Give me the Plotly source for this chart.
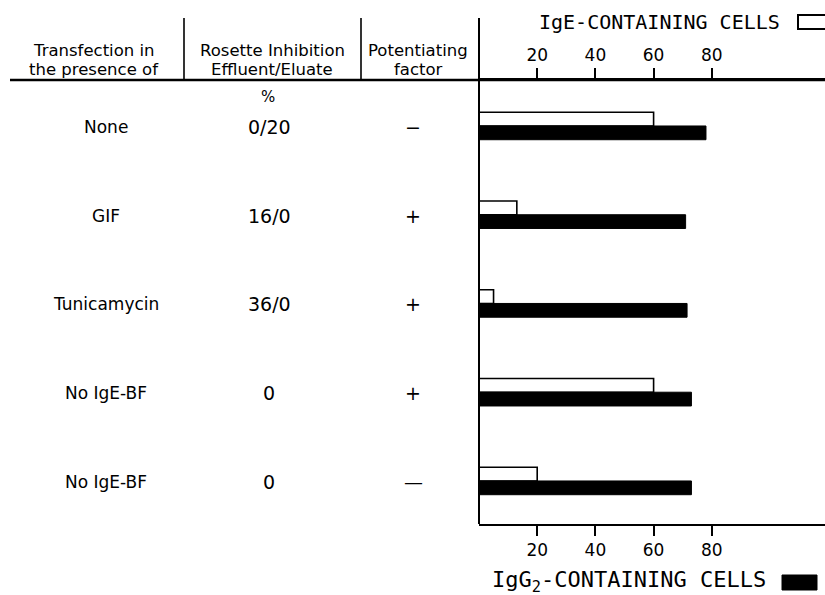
import plotly.graph_objects as go

# ---- data ----
treatments = ["None", "GIF", "Tunicamycin", "No IgE-BF", "No IgE-BF"]
rosette_inhibition = ["0/20", "16/0", "36/0", "0", "0"]
potentiating = ["\u2212", "+", "+", "+", "\u2014"]
ige_cells = [60, 13, 5, 60, 20]
igg2_cells = [78, 71, 71.5, 73, 73]
tick_vals = [20, 40, 60, 80]
tick_text = ["20", "40", "60", "80"]

W, H = 825, 595
def px(x):
    return x / W
def py(y):
    return 1 - y / H

rows = list(range(len(treatments)))
FONT = "DejaVu Sans"
MONO = "DejaVu Sans Mono"

fig = go.Figure()
fig.add_trace(go.Bar(
    y=rows, x=ige_cells, orientation="h", name="IgE",
    marker=dict(color="white", line=dict(color="black", width=1.6)),
    xaxis="x", yaxis="y", showlegend=False, hoverinfo="x",
))
fig.add_trace(go.Bar(
    y=rows, x=igg2_cells, orientation="h", name="IgG2",
    marker=dict(color="black", line=dict(color="black", width=1)),
    xaxis="x", yaxis="y", showlegend=False, hoverinfo="x",
))
# empty trace to carry the bottom axis
fig.add_trace(go.Scatter(x=[None], y=[None], xaxis="x2", yaxis="y",
                         mode="markers", showlegend=False, hoverinfo="skip"))

xr = [0, (W - 479) / 2.91]
common_axis = dict(
    range=xr, tickvals=tick_vals, ticktext=tick_text, ticks="outside",
    ticklen=10, tickwidth=2, tickcolor="black", showgrid=False,
    zeroline=False, showline=True, linecolor="black", linewidth=2,
    tickfont=dict(family=FONT, size=17, color="black"),
    domain=[px(479), 1],
)
fig.update_layout(
    width=W, height=H,
    margin=dict(l=0, r=0, t=0, b=0),
    paper_bgcolor="white", plot_bgcolor="white",
    barmode="group", bargap=0.69, bargroupgap=0,
    xaxis=dict(side="top", anchor="y", **common_axis),
    xaxis2=dict(side="bottom", overlaying="x", anchor="y", **common_axis),
    yaxis=dict(range=[4.485, -0.518], domain=[py(524), py(80)],
               showticklabels=False, showgrid=False, zeroline=False,
               showline=False, ticks=""),
)

annotations = []
# header (two lines each)
headers = [("Transfection in", "the presence of", 94),
           ("Rosette Inhibition", "Effluent/Eluate", 272),
           ("Potentiating", "factor", 418)]
for l1, l2, x in headers:
    for txt, yy in ((l1, 50), (l2, 69)):
        annotations.append(dict(text=txt, x=px(x), y=py(yy), xref="paper", yref="paper",
                                showarrow=False, xanchor="center", yanchor="middle",
                                font=dict(family=FONT, size=16.5, color="black")))
# row texts
for i in rows:
    annotations.append(dict(text=treatments[i], x=px(106), y=i, xref="paper", yref="y",
                            showarrow=False, xanchor="center", yanchor="middle", yshift=-1,
                            font=dict(family=FONT, size=17, color="black")))
    annotations.append(dict(text=rosette_inhibition[i], x=px(269), y=i, xref="paper", yref="y",
                            showarrow=False, xanchor="center", yanchor="middle", yshift=-1,
                            font=dict(family=FONT, size=19, color="black")))
    annotations.append(dict(text=potentiating[i], x=px(413), y=i, xref="paper", yref="y",
                            showarrow=False, xanchor="center", yanchor="middle", yshift=-1,
                            font=dict(family=FONT, size=19, color="black")))
annotations.append(dict(text="%", x=px(268), y=py(97), xref="paper", yref="paper",
                        showarrow=False, xanchor="center", yanchor="middle",
                        font=dict(family=FONT, size=15, color="black")))
# axis titles
annotations.append(dict(text="IgE-CONTAINING CELLS", x=px(782), y=py(22), xref="paper", yref="paper",
                        showarrow=False, xanchor="right", yanchor="middle",
                        font=dict(family=MONO, size=20, color="black")))
annotations.append(dict(text="IgG<sub>2</sub>-CONTAINING CELLS", x=px(768), y=py(581), xref="paper", yref="paper",
                        showarrow=False, xanchor="right", yanchor="middle",
                        font=dict(family=MONO, size=22, color="black")))
fig.update_layout(annotations=annotations)

shapes = [
    # header rule
    dict(type="line", xref="paper", yref="paper", x0=px(10), x1=1, y0=py(80), y1=py(80),
         line=dict(color="black", width=2.5)),
    # column separators
    dict(type="line", xref="paper", yref="paper", x0=px(184), x1=px(184), y0=py(18), y1=py(80),
         line=dict(color="black", width=1.6)),
    dict(type="line", xref="paper", yref="paper", x0=px(361), x1=px(361), y0=py(18), y1=py(80),
         line=dict(color="black", width=1.6)),
    # chart vertical axis
    dict(type="line", xref="paper", yref="paper", x0=px(479), x1=px(479), y0=py(18), y1=py(524),
         line=dict(color="black", width=2)),
    # legend boxes
    dict(type="rect", xref="paper", yref="paper", x0=px(798), x1=px(830), y0=py(29), y1=py(15),
         line=dict(color="black", width=2), fillcolor="white"),
    dict(type="rect", xref="paper", yref="paper", x0=px(782), x1=px(817), y0=py(590), y1=py(575),
         line=dict(color="black", width=1), fillcolor="black"),
]
fig.update_layout(shapes=shapes)

fig.write_html("out.html", config={"displayModeBar": False},
               post_script="document.body.style.margin='0';document.body.style.overflow='hidden';")
